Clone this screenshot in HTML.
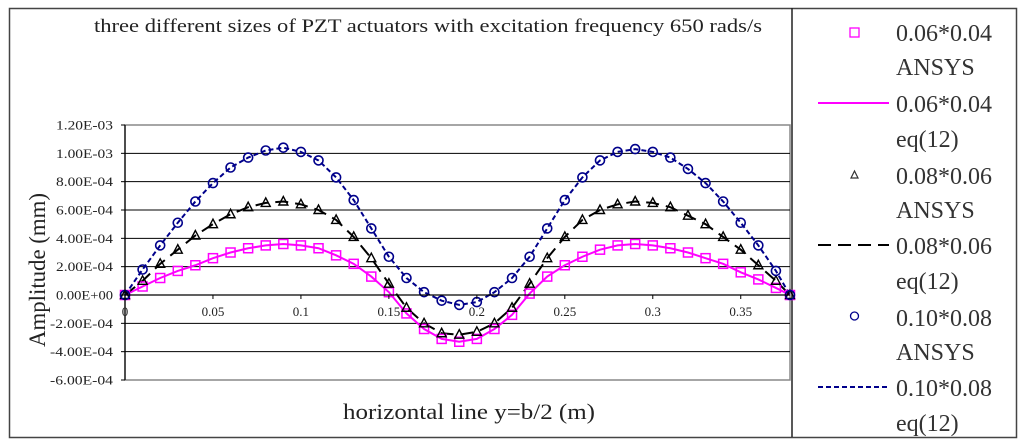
<!DOCTYPE html>
<html><head><meta charset="utf-8"><style>
body{margin:0;background:#fff;}
svg{display:block;font-family:"Liberation Serif",serif;}
</style></head><body>
<svg id="chart" width="1024" height="445" xmlns="http://www.w3.org/2000/svg">
<rect x="9.5" y="8.5" width="1007" height="429" fill="#fff" stroke="#444" stroke-width="1.5"/>
<line x1="792" y1="8" x2="792" y2="437" stroke="#222" stroke-width="1.5"/>
<text x="428" y="32" font-size="19" text-anchor="middle" fill="#222" textLength="668" lengthAdjust="spacingAndGlyphs">three different sizes of PZT actuators with excitation frequency 650 rads/s</text>
<g id="grid"></g>
<g id="plot"></g>
<g id="yticks"></g>
<g id="xticks"></g>
<text transform="translate(45,270) rotate(-90)" font-size="23" text-anchor="middle" fill="#222" textLength="154" lengthAdjust="spacingAndGlyphs">Amplitude  (mm)</text>
<text x="469" y="419" font-size="22" text-anchor="middle" fill="#222" textLength="252" lengthAdjust="spacingAndGlyphs">horizontal  line  y=b/2 (m)</text>
<g id="legend">
<rect x="850" y="28" width="9" height="9" fill="none" stroke="#f0f" stroke-width="1.3"/>
<line x1="818" y1="103" x2="889" y2="103" stroke="#f0f" stroke-width="2"/>
<polygon points="854.5,171 851,178 858,178" fill="none" stroke="#333" stroke-width="1.2"/>
<line x1="818" y1="245" x2="889" y2="245" stroke="#000" stroke-width="2" stroke-dasharray="13,7"/>
<circle cx="854.5" cy="316" r="4" fill="none" stroke="#00008b" stroke-width="1.3"/>
<line x1="818" y1="387" x2="889" y2="387" stroke="#00008b" stroke-width="2" stroke-dasharray="5,3"/>
<g font-size="24" fill="#333">
<text x="896" y="41">0.06*0.04</text>
<text x="896" y="75">ANSYS</text>
<text x="896" y="112">0.06*0.04</text>
<text x="896" y="147">eq(12)</text>
<text x="896" y="184">0.08*0.06</text>
<text x="896" y="218">ANSYS</text>
<text x="896" y="254">0.08*0.06</text>
<text x="896" y="289">eq(12)</text>
<text x="896" y="326">0.10*0.08</text>
<text x="896" y="360">ANSYS</text>
<text x="896" y="396">0.10*0.08</text>
<text x="896" y="431">eq(12)</text>
</g>
</g>
</svg>
<script>
const xs = [0,0.01,0.02,0.03,0.04,0.05,0.06,0.07,0.08,0.09,0.10,0.11,0.12,0.13,0.14,0.15,0.16,0.17,0.18,0.19,0.20,0.21,0.22,0.23,0.24,0.25,0.26,0.27,0.28,0.29,0.30,0.31,0.32,0.33,0.34,0.35,0.36,0.37,0.378];
// values in units of 1e-4 mm
const s1 = [0,0.6,1.2,1.7,2.1,2.6,3.0,3.3,3.5,3.6,3.5,3.3,2.8,2.2,1.3,0.2,-1.3,-2.4,-3.1,-3.3,-3.1,-2.4,-1.4,0.1,1.3,2.1,2.7,3.2,3.5,3.6,3.5,3.3,3.0,2.6,2.2,1.6,1.1,0.5,0];
const s2 = [0,1.0,2.2,3.2,4.2,5.0,5.7,6.2,6.5,6.6,6.4,6.0,5.3,4.1,2.6,0.8,-0.9,-2.0,-2.7,-2.8,-2.6,-2.0,-0.9,0.8,2.6,4.1,5.3,6.0,6.4,6.6,6.5,6.2,5.6,5.0,4.1,3.2,2.1,1.0,0];
const s3 = [0,1.8,3.5,5.1,6.6,7.9,9.0,9.7,10.2,10.4,10.1,9.5,8.3,6.7,4.7,2.7,1.2,0.2,-0.4,-0.7,-0.5,0.2,1.2,2.7,4.7,6.7,8.3,9.5,10.1,10.3,10.1,9.7,8.9,7.9,6.6,5.1,3.5,1.7,0];
const yTicks = [12,10,8,6,4,2,0,-2,-4,-6];
const yTickLabels = ["1.20E-03","1.00E-03","8.00E-04","6.00E-04","4.00E-04","2.00E-04","0.00E+00","-2.00E-04","-4.00E-04","-6.00E-04"];
const xTicks = [0,0.05,0.1,0.15,0.2,0.25,0.3,0.35];
const xTickLabels = ["0","0.05","0.1","0.15","0.2","0.25","0.3","0.35"];

const NS="http://www.w3.org/2000/svg";
const L=125,R=790,T=125,B=380;
const X=v=>L+(v/0.378)*(R-L);
const Y=v=>T+(12-v)/18*(B-T);
function mk(tag,attrs,parent){const e=document.createElementNS(NS,tag);for(const k in attrs)e.setAttribute(k,attrs[k]);parent.appendChild(e);return e;}
const grid=document.getElementById('grid'),plot=document.getElementById('plot'),yt=document.getElementById('yticks'),xt=document.getElementById('xticks');
mk('rect',{x:L,y:T,width:R-L,height:B-T,fill:'#fff',stroke:'#888','stroke-width':1.5},grid);
yTicks.forEach((t,i)=>{
  if(t!==12&&t!==-6){const g=mk('line',{x1:L,x2:R,y1:Y(t),y2:Y(t),stroke:'#000','stroke-width':1},grid);
  
  }
  mk('line',{x1:L-4,x2:L,y1:Y(t),y2:Y(t),stroke:'#000'},yt);
  const tx=mk('text',{x:113,y:Y(t)+4.5,'font-size':13,'text-anchor':'end',fill:'#222','textLength':yTickLabels[i].length>8?63:57,'lengthAdjust':'spacingAndGlyphs'},yt);
  tx.textContent=yTickLabels[i];
  
  
});
mk('line',{x1:L,x2:L,y1:T,y2:B,stroke:'#000','stroke-width':1.2},yt);
mk('line',{x1:L,x2:R,y1:Y(0),y2:Y(0),stroke:'#000','stroke-width':1.2},xt);
xTicks.forEach((t,i)=>{
  mk('line',{x1:X(t),x2:X(t),y1:Y(0),y2:Y(0)+4,stroke:'#000'},xt);
  const tx=mk('text',{x:X(t),y:Y(0)+21,'font-size':13,'text-anchor':'middle',fill:'#222'},xt);
  tx.textContent=xTickLabels[i];
  
  
});
function line(arr,color,dash,name){
  const p=mk('polyline',{points:xs.map((x,i)=>X(x)+','+Y(arr[i])).join(' '),fill:'none',stroke:color,'stroke-width':2,'stroke-dasharray':dash},plot);
  
  
}
line(s1,'#f0f','none','line-s1-eq');
line(s2,'#000','13,7','line-s2-eq');
line(s3,'#00008b','5,3','line-s3-eq');
xs.forEach((x,i)=>{
  const a=mk('rect',{x:X(x)-4.5,y:Y(s1[i])-4.5,width:9,height:9,fill:'none',stroke:'#f0f','stroke-width':1.5},plot);
  
  
  const cx=X(x),cy=Y(s2[i]);
  const b=mk('polygon',{points:`${cx},${cy-5} ${cx-4.5},${cy+3.5} ${cx+4.5},${cy+3.5}`,fill:'none',stroke:'#000','stroke-width':1.4},plot);
  
  
  const c=mk('circle',{cx:X(x),cy:Y(s3[i]),r:4.5,fill:'none',stroke:'#00008b','stroke-width':1.6},plot);
  
  
});
</script>
</body></html>
